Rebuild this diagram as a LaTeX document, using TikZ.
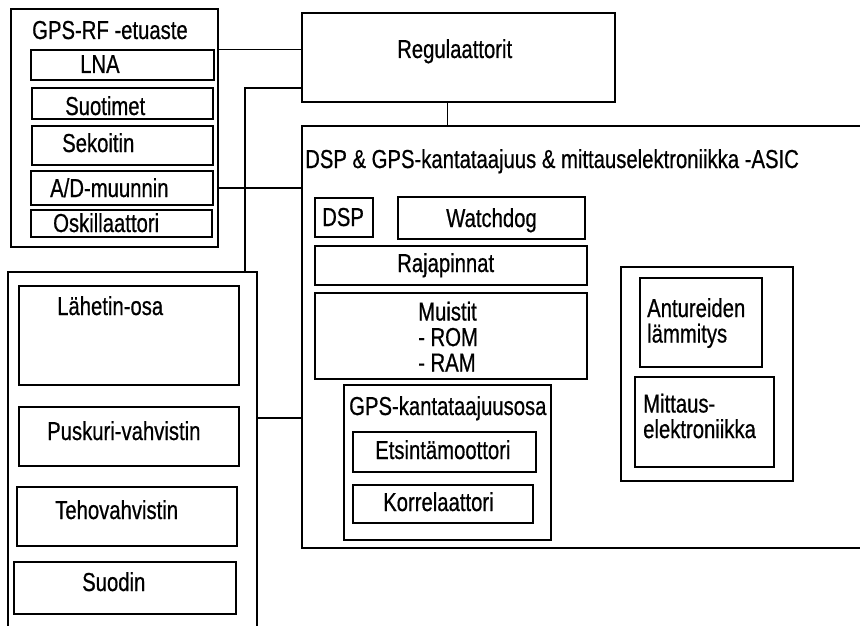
\documentclass[tikz,border=0pt]{standalone}
\usepackage{fontspec}
\setmainfont{Liberation Sans}[FakeStretch=0.78, FakeBold=0.6]
\usetikzlibrary{fit}

\tikzset{
  laatikko/.style={draw, line width=1.2pt, inner sep=0pt},
  teksti/.style={anchor=base west, inner sep=0pt, font=\fontsize{26}{28}\selectfont},
  monirivi/.style={anchor=north west, inner sep=0pt, align=left, font=\fontsize{26}{25.5}\selectfont},
  johto/.style={line width=1.2pt}
}

\begin{document}
\begin{tikzpicture}[x=1pt, y=-1pt]
  \useasboundingbox (0,0) rectangle (860,626);
  \clip (0,0) rectangle (860,626);

  % GPS-RF -etuaste
  \node[laatikko, fit={(11,9) (218,247)}] (rf) {};
  \node[laatikko, fit={(31,50) (214,80)}] (lna) {};
  \node[laatikko, fit={(32,88) (213,119)}] (suo) {};
  \node[laatikko, fit={(32,126) (213,165)}] (sek) {};
  \node[laatikko, fit={(31,171) (213,205)}] (ad) {};
  \node[laatikko, fit={(31,210) (212,237)}] (osk) {};
  \node[teksti] (rf-t) at (32,39) {GPS-RF -etuaste};
  \node[teksti] (lna-t) at (80,73) {LNA};
  \node[teksti] (suo-t) at (65,115) {Suotimet};
  \node[teksti] (sek-t) at (62,152) {Sekoitin};
  \node[teksti] (ad-t) at (50,197) {A/D-muunnin};
  \node[teksti] (osk-t) at (53,232) {Oskillaattori};

  % Regulaattorit
  \node[laatikko, fit={(302,13) (615,102)}] (reg) {};
  \node[teksti] (reg-t) at (397,58) {Regulaattorit};

  % ASIC
  \node[laatikko, fit={(302,126) (880,548)}] (asic) {};
  \node[teksti] (asic-t) at (305,168) {DSP \& GPS-kantataajuus \& mittauselektroniikka -ASIC};
  \node[laatikko, fit={(315,198) (373,237)}] (dsp) {};
  \node[laatikko, fit={(398,197) (585,239)}] (wd) {};
  \node[laatikko, fit={(315,246) (587,285)}] (raja) {};
  \node[laatikko, fit={(315,293) (587,379)}] (muis) {};
  \node[teksti] (dsp-t) at (322,226) {DSP};
  \node[teksti] (wd-t) at (446,227) {Watchdog};
  \node[teksti] (raja-t) at (397,272) {Rajapinnat};
  \node[monirivi] (muis-t) at (418,301.5) {Muistit\\- ROM\\- RAM};

  \node[laatikko, fit={(344,385) (551,540)}] (gpsk) {};
  \node[laatikko, fit={(353,432) (536,472)}] (ets) {};
  \node[laatikko, fit={(353,485) (533,523)}] (kor) {};
  \node[teksti] (gpsk-t) at (349,415) {GPS-kantataajuusosa};
  \node[teksti] (ets-t) at (375,459) {Etsintämoottori};
  \node[teksti] (kor-t) at (383,511) {Korrelaattori};

  \node[laatikko, fit={(621,267) (793,481)}] (anturi) {};
  \node[laatikko, fit={(640,278) (762,367)}] (lam) {};
  \node[laatikko, fit={(635,377) (774,467)}] (mitt) {};
  \node[monirivi] (lam-t) at (647,298) {Antureiden\\lämmitys};
  \node[monirivi] (mitt-t) at (643,393.5) {Mittaus-\\elektroniikka};

  % Lahetin
  \node[laatikko, fit={(8,272) (257,640)}] (lah) {};
  \node[laatikko, fit={(19,286) (239,385)}] (losa) {};
  \node[laatikko, fit={(19,407) (239,466)}] (pus) {};
  \node[laatikko, fit={(17,487) (237,546)}] (teho) {};
  \node[laatikko, fit={(14,562) (236,614)}] (suod) {};
  \node[teksti] (losa-t) at (57,315) {Lähetin-osa};
  \node[teksti] (pus-t) at (47,440) {Puskuri-vahvistin};
  \node[teksti] (teho-t) at (55,519) {Tehovahvistin};
  \node[teksti] (suod-t) at (82,591) {Suodin};

  % johdot
  \coordinate (kulma) at (245,88);
  \coordinate (lah-j) at (0,418);
  \draw[johto] (rf.east |- lna.north) -- (reg.west |- lna.north);
  \draw[johto] (lah.north -| kulma) -- (kulma) -- (reg.west |- kulma);
  \draw[johto] (rf.east |- ad) -- (asic.west |- ad);
  \draw[johto] (reg.south -| gpsk) -- (asic.north -| gpsk);
  \draw[johto] (lah.east |- lah-j) -- (asic.west |- lah-j);
\end{tikzpicture}
\end{document}
